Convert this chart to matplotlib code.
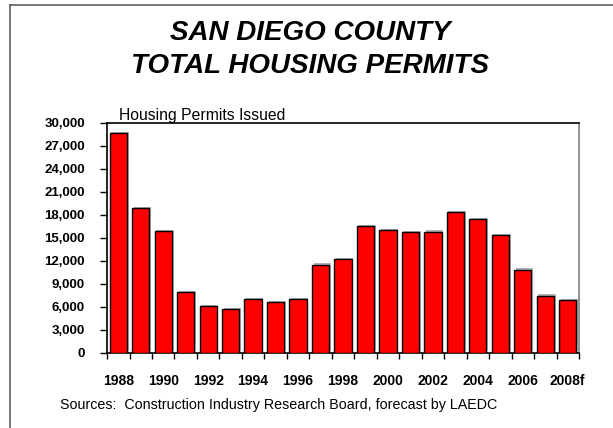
import matplotlib
matplotlib.use("Agg")
import matplotlib.pyplot as plt
import matplotlib.patheffects as pe
from matplotlib.lines import Line2D
from matplotlib.ticker import FuncFormatter, FixedLocator

plt.rcParams['font.family'] = ['Liberation Sans', 'DejaVu Sans']

years = ['1988', '1989', '1990', '1991', '1992', '1993', '1994', '1995', '1996',
         '1997', '1998', '1999', '2000', '2001', '2002', '2003', '2004', '2005',
         '2006', '2007', '2008f']
permits = [28600, 18830, 15830, 7900, 6090, 5660, 6960, 6610, 6960,
           11480, 12180, 16480, 16000, 15700, 15780, 18350, 17440, 15350,
           10830, 7430, 6870]
y_ticks = [0, 3000, 6000, 9000, 12000, 15000, 18000, 21000, 24000, 27000, 30000]

fig = plt.figure(figsize=(6.13, 4.28), dpi=100)
ax = fig.add_axes([0.1746, 0.176, 0.7699, 0.5373])

x = list(range(len(years)))
bars = ax.bar(x, permits, width=0.77, color='#ff0000', edgecolor='black',
              linewidth=1.0, zorder=3)
for b in bars:
    b.set_path_effects([pe.SimplePatchShadow(offset=(1.2, 1.0), shadow_rgbFace='#808080', alpha=0.6),
                        pe.Normal()])

ax.set_xlim(-0.5, len(years) - 0.5)
ax.set_ylim(0, 30000)
ax.set_yticks(y_ticks)
ax.yaxis.set_major_formatter(FuncFormatter(lambda v, p: f'{int(v):,}'))

# labels every other year, ticks on the category boundaries
ax.set_xticks(x[::2])
ax.set_xticklabels(years[::2])
ax.xaxis.set_minor_locator(FixedLocator([i - 0.5 for i in range(len(years) + 1)]))
ax.tick_params(axis='x', which='major', length=0, pad=15)
ax.tick_params(axis='x', which='minor', length=4.5, width=1, direction='out')
ax.tick_params(axis='y', length=5, width=1, direction='out', pad=11)

for lbl in ax.get_xticklabels():
    lbl.set_fontweight('bold')
    lbl.set_fontsize(10)
for lbl in ax.get_yticklabels():
    lbl.set_fontweight('bold')
    lbl.set_fontsize(9.5)

for s in ['left', 'bottom', 'top']:
    ax.spines[s].set_color('black')
    ax.spines[s].set_linewidth(1.2)
ax.spines['right'].set_color('#808080')
ax.spines['right'].set_linewidth(1.2)

fig.text(0.506, 1 - 40 / 428, 'SAN DIEGO COUNTY', ha='center', va='baseline',
         fontsize=20, fontweight='bold', fontstyle='italic')
fig.text(0.506, 1 - 73 / 428, 'TOTAL HOUSING PERMITS', ha='center', va='baseline',
         fontsize=20, fontweight='bold', fontstyle='italic')
fig.text(119 / 613, 1 - 119.5 / 428, 'Housing Permits Issued', ha='left',
         va='baseline', fontsize=11.3)
fig.text(60 / 613, 1 - 409.5 / 428,
         'Sources:  Construction Industry Research Board, forecast by LAEDC',
         ha='left', va='baseline', fontsize=10.3)

# frame around the slide
fig.add_artist(Line2D([10 / 613, 10 / 613], [0, 1 - 5 / 428], color='#606060', lw=1.2))
fig.add_artist(Line2D([10 / 613, 1], [1 - 5 / 428, 1 - 5 / 428], color='#606060', lw=1.2))

fig.savefig('out.png', dpi=100)
